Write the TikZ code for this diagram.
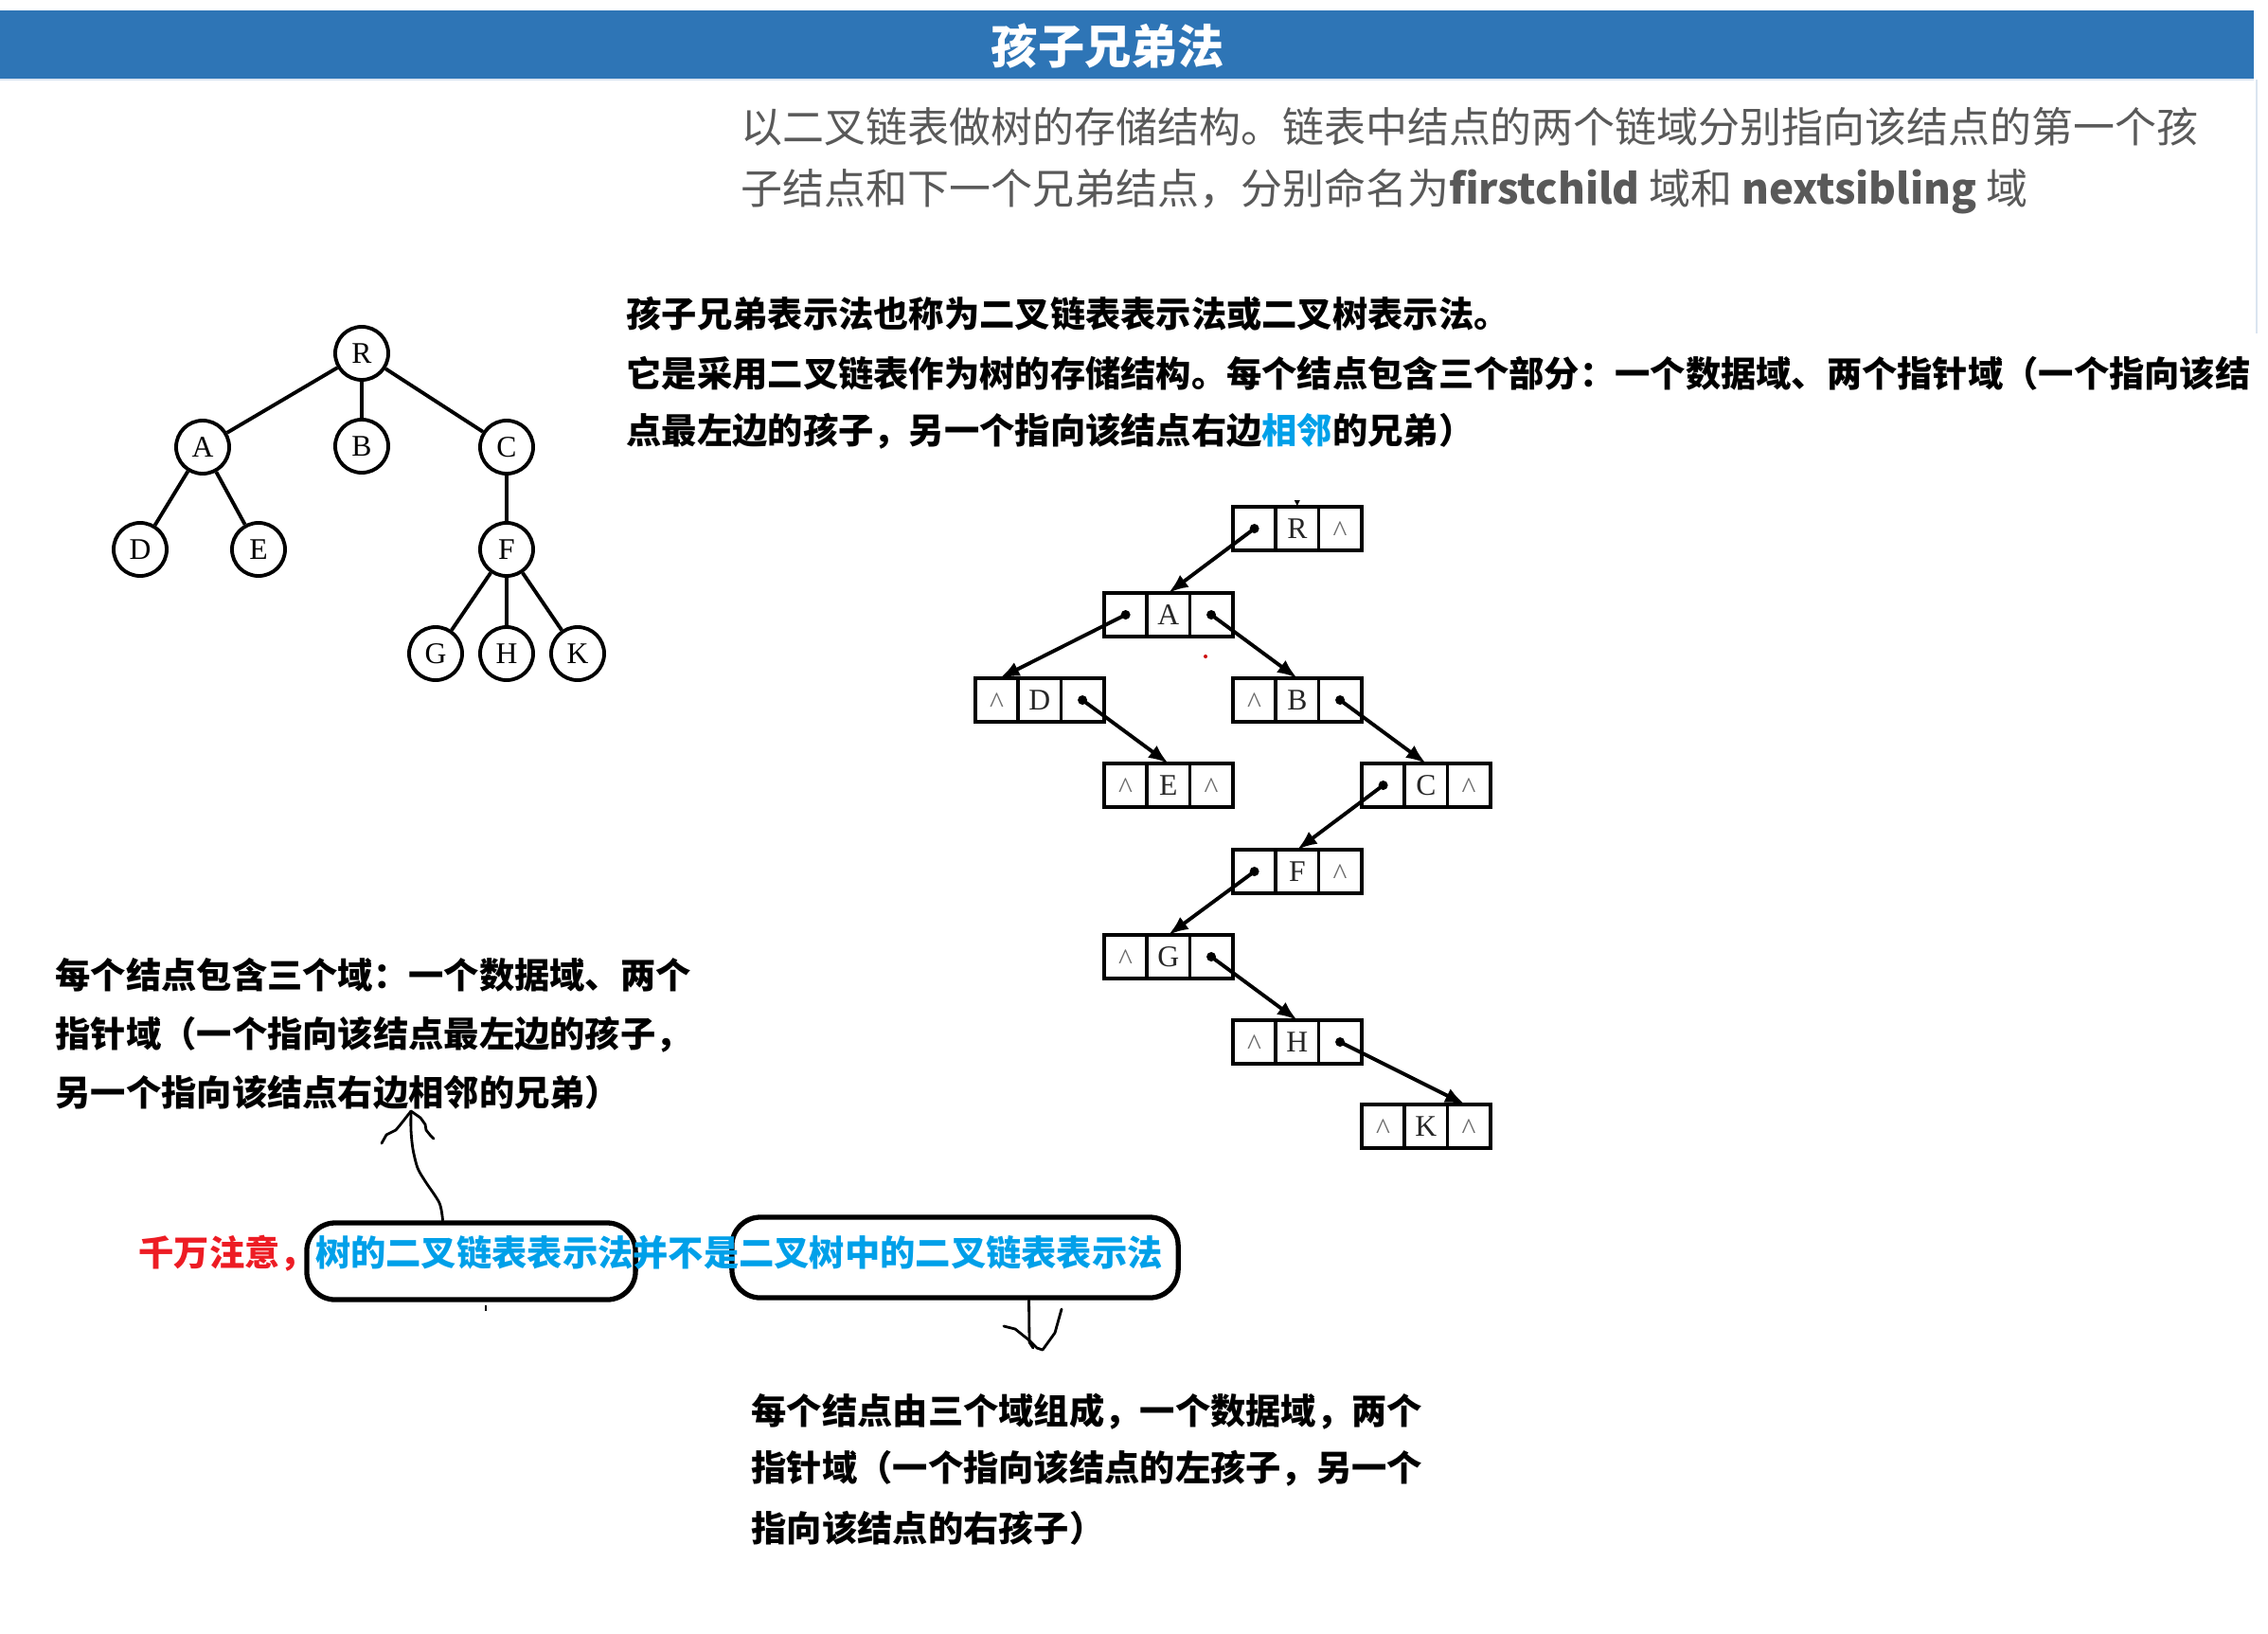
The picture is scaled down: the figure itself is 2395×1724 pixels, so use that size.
\documentclass[tikz,border=0pt]{standalone}
\usepackage{fontspec}
\setmainfont{Liberation Serif}
\newfontfamily\cjk{Noto Sans CJK SC}
\usetikzlibrary{arrows.meta,calc}
\definecolor{barblue}{HTML}{2E75B6}
\definecolor{txtgray}{HTML}{595959}
\definecolor{hiblue}{HTML}{00A0E9}
\definecolor{warnred}{HTML}{ED1C24}
\definecolor{capgray}{HTML}{6A6A6A}
\definecolor{faint}{RGB}{218,228,240}
\newcommand\crt{\raisebox{-0.42em}[0pt][0pt]{\color{capgray}\textasciicircum}}
\newcommand\listnode[6]{%
  \node[cell, anchor=north west] (#1l) at (#2,#3) {#4};
  \node[cell, anchor=north west] (#1m) at (#1l.north east) {#5};
  \node[cell, anchor=north west] (#1r) at (#1m.north east) {#6};
}
\begin{document}
\begin{tikzpicture}[x=0.01cm, y=-0.01cm,
  tn/.style={circle, draw, line width=1.1pt, minimum size=0.56cm, inner sep=0pt, font=\fontsize{9}{10}\selectfont},
  edge/.style={line width=1.1pt},
  cell/.style={draw, line width=1.1pt, minimum width=0.452cm, minimum height=0.46cm, inner sep=0pt, outer sep=0pt, text={black!85}, font=\fontsize{9}{10}\selectfont},
  ptr/.style={line width=1.1pt, -{Latex[length=0.21cm,width=0.16cm]}},
  bt/.style={anchor=west, inner sep=0pt, font=\cjk\bfseries\fontsize{10.6}{12}\selectfont},
  gt/.style={anchor=west, inner sep=0pt, text=txtgray, font=\cjk\fontsize{12.5}{14}\selectfont},
  hand/.style={line width=0.8pt, line cap=round, line join=round},
  bubble/.style={draw, line width=1.5pt, rounded corners=0.3cm, inner sep=0pt}]
\useasboundingbox (0,0) rectangle (2395,1724);

% header
\fill[barblue] (0,11) rectangle (2380,83);
\draw[faint, line width=0.8pt] (0,84) -- (2380,84);
\draw[faint, line width=0.6pt] (2383,84) -- (2383,352);
\node[inner sep=0pt, text=white, font=\cjk\bfseries\fontsize{14}{16}\selectfont] (title) at (1170,49) {孩子兄弟法};

% gray intro
\node[gt] (g1) at (782,134) {以二叉链表做树的存储结构。链表中结点的两个链域分别指向该结点的第一个孩};
\node[gt] (g2) at (782,202) {子结点和下一个兄弟结点，分别命名为\textbf{firstchild} 域和 \textbf{nextsibling} 域};

% bold description
\node[bt] (d1) at (661,331) {孩子兄弟表示法也称为二叉链表表示法或二叉树表示法。};
\node[bt] (d2) at (661,394) {它是采用二叉链表作为树的存储结构。每个结点包含三个部分：一个数据域、两个指针域（一个指向该结};
\node[bt] (d3) at (661,455) {点最左边的孩子，另一个指向该结点右边{\color{hiblue}相邻}的兄弟）};

% tree
\node[tn] (R) at (382,373) {R};
\node[tn] (A) at (214,472) {A};
\node[tn] (B) at (382,471) {B};
\node[tn] (C) at (535,472) {C};
\node[tn] (D) at (148,580) {D};
\node[tn] (E) at (273,580) {E};
\node[tn] (F) at (535,580) {F};
\node[tn] (G) at (460,690) {G};
\node[tn] (H) at (535,690) {H};
\node[tn] (K) at (610,690) {K};
\draw[edge] (R) -- (A);
\draw[edge] (R) -- (B);
\draw[edge] (R) -- (C);
\draw[edge] (A) -- (D);
\draw[edge] (A) -- (E);
\draw[edge] (C) -- (F);
\draw[edge] (F) -- (G);
\draw[edge] (F) -- (H);
\draw[edge] (F) -- (K);

% binary linked list
\listnode{R}{1302}{535}{}{R}{\crt}
\listnode{A}{1166}{626}{}{A}{}
\listnode{D}{1030}{716}{\crt}{D}{}
\listnode{B}{1302}{716}{\crt}{B}{}
\listnode{E}{1166}{806}{\crt}{E}{\crt}
\listnode{C}{1438}{806}{}{C}{\crt}
\listnode{F}{1302}{897}{}{F}{\crt}
\listnode{G}{1166}{987}{\crt}{G}{}
\listnode{H}{1302}{1077}{\crt}{H}{}
\listnode{K}{1438}{1166}{\crt}{K}{\crt}

\foreach \p in {Rl,Al,Ar,Dr,Br,Cl,Fl,Gr,Hr} {\fill (\p.center) circle (0.05cm);}
\draw[ptr] (Rl.center) -- (Am.north);
\draw[ptr] (Al.center) -- ($(Dl.north)+(3,0)$);
\draw[ptr] (Ar.center) -- (Bm.north);
\draw[ptr] (Dr.center) -- (Em.north);
\draw[ptr] (Br.center) -- (Cm.north);
\draw[ptr] (Cl.center) -- (Fm.north);
\draw[ptr] (Fl.center) -- (Gm.north);
\draw[ptr] (Gr.center) -- (Hm.north);
\draw[ptr] (Hr.center) -- ($(Kr.north)+(-4,0)$);
\fill ($(Rm.north)+(-3,-7)$) -- ($(Rm.north)+(3,-7)$) -- ($(Rm.north)+(0,-1)$) -- cycle;
\fill[red!80!black] (1273,693) circle (0.02cm);

% left note
\node[bt] (l1) at (58,1029) {每个结点包含三个域：一个数据域、两个};
\node[bt] (l2) at (58,1092) {指针域（一个指向该结点最左边的孩子，};
\node[bt] (l3) at (58,1153) {另一个指向该结点右边相邻的兄弟）};

% warning line
\node[bubble, minimum width=3.47cm, minimum height=0.81cm] (b1) at (497.5,1331.5) {};
\node[bubble, minimum width=4.71cm, minimum height=0.85cm] (b2) at (1008.5,1327.5) {};
\node[bt] (w) at (146,1323) {{\color{warnred}千万注意，}{\color{hiblue}树的二叉链表表示法并不是二叉树中的二叉链表表示法}};
\draw[line width=0.6pt] (513,1378) -- (513,1384);

% hand-drawn arrow up
\coordinate (tip1) at (434,1173);
\draw[hand] plot[smooth, tension=0.5] coordinates {($(b1.north)+(-30,0)$) (464,1270) (449,1247) (441,1233) (436,1213) (434,1193) (tip1)};
\draw[hand] (403,1207) -- (408,1198) -- (418,1193) -- (423,1187) -- (tip1) -- (444,1180) -- (449,1187) -- (450,1193) -- (454,1198) -- (458,1202);

% hand-drawn arrow down
\coordinate (tip2) at (1101,1425);
\draw[hand] ($(b2.south)+(78,0)$) -- (1087,1417) -- (1091,1423);
\draw[hand] (1060,1400) -- (1072,1403) -- (1087,1415) -- (1095,1423) -- (tip2) -- (1114,1407) -- (1121,1382);

% bottom note
\node[bt] (n1) at (793,1490) {每个结点由三个域组成，一个数据域，两个};
\node[bt] (n2) at (793,1550) {指针域（一个指向该结点的左孩子，另一个};
\node[bt] (n3) at (793,1613) {指向该结点的右孩子）};
\end{tikzpicture}
\end{document}
